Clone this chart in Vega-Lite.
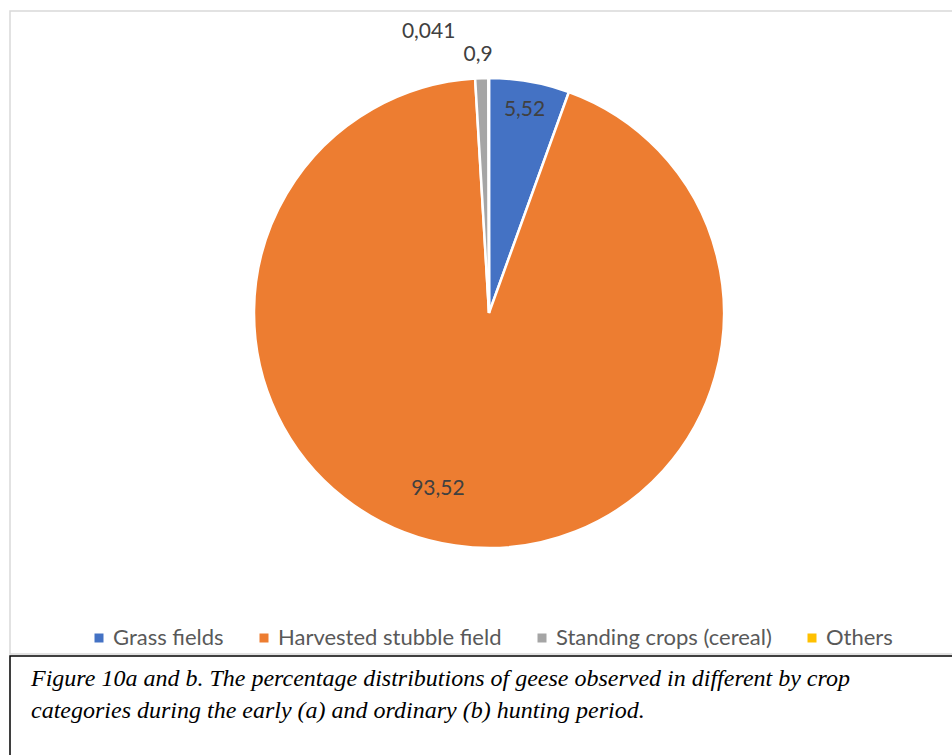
{
  "$schema": "https://vega.github.io/schema/vega-lite/v6.json",
  "padding": {"left": 9, "top": 10, "right": 0, "bottom": 0},
  "background": "white",
  "spacing": 0,
  "vconcat": [
    {
      "width": 943,
      "height": 643,
      "view": {"stroke": "#D9D9D9", "strokeWidth": 1.5},
      "data": {
        "values": [
          {"category": "Grass fields", "value": 5.52, "label": "5,52", "order": 1},
          {"category": "Harvested stubble field", "value": 93.52, "label": "93,52", "order": 2},
          {"category": "Standing crops (cereal)", "value": 0.9, "label": "0,9", "order": 3},
          {"category": "Others", "value": 0.041, "label": "0,041", "order": 4}
        ]
      },
      "encoding": {
        "theta": {"field": "value", "type": "quantitative", "stack": true},
        "order": {"field": "order", "type": "quantitative"}
      },
      "layer": [
        {
          "mark": {"type": "arc", "radius": 235, "stroke": "white", "strokeWidth": 2.5, "xOffset": 7.5, "yOffset": -19.5},
          "encoding": {
            "color": {
              "field": "category",
              "type": "nominal",
              "sort": ["Grass fields", "Harvested stubble field", "Standing crops (cereal)", "Others"],
              "scale": {
                "domain": ["Grass fields", "Harvested stubble field", "Standing crops (cereal)", "Others"],
                "range": ["#4472C4", "#ED7D31", "#A5A5A5", "#FFC000"]
              },
              "legend": {
                "title": null,
                "orient": "none",
                "direction": "horizontal",
                "legendX": 78,
                "legendY": 616,
                "symbolType": "square",
                "symbolSize": 81,
                "symbolStrokeWidth": 0,
                "labelFont": "Lato",
                "labelFontSize": 22,
                "labelColor": "#595959",
                "labelOffset": 3,
                "labelLimit": 0,
                "columnPadding": 29
              }
            }
          }
        },
        {
          "mark": {"type": "text", "radius": 206, "xOffset": 7.5, "yOffset": -19.5, "font": "Lato", "fontSize": 21, "fill": "#404040", "align": "center", "baseline": "middle"},
          "encoding": {
            "text": {"field": "label", "type": "nominal"},
            "opacity": {"condition": {"test": "datum.category === 'Grass fields'", "value": 1}, "value": 0}
          }
        },
        {
          "mark": {"type": "text", "radius": 182, "xOffset": 7.5, "yOffset": -19.5, "dx": -25, "dy": -4, "font": "Lato", "fontSize": 21, "fill": "#404040", "align": "center", "baseline": "middle"},
          "encoding": {
            "text": {"field": "label", "type": "nominal"},
            "opacity": {"condition": {"test": "datum.category === 'Harvested stubble field'", "value": 1}, "value": 0}
          }
        },
        {
          "mark": {"type": "text", "radius": 258, "xOffset": 7.5, "yOffset": -19.5, "dx": -3, "font": "Lato", "fontSize": 21, "fill": "#404040", "align": "center", "baseline": "middle"},
          "encoding": {
            "text": {"field": "label", "type": "nominal"},
            "opacity": {"condition": {"test": "datum.category === 'Standing crops (cereal)'", "value": 1}, "value": 0}
          }
        },
        {
          "mark": {"type": "text", "radius": 281, "xOffset": 7.5, "yOffset": -19.5, "dx": -60, "font": "Lato", "fontSize": 21, "fill": "#404040", "align": "center", "baseline": "middle"},
          "encoding": {
            "text": {"field": "label", "type": "nominal"},
            "opacity": {"condition": {"test": "datum.category === 'Others'", "value": 1}, "value": 0}
          }
        }
      ]
    },
    {
      "width": 943,
      "height": 102,
      "view": {"stroke": "black", "strokeWidth": 1.5},
      "title": {
        "text": [
          "Figure 10a and b. The percentage distributions of geese observed in different by crop",
          "categories during the early (a) and ordinary (b) hunting period."
        ],
        "orient": "top",
        "anchor": "start",
        "frame": "group",
        "offset": -67,
        "dx": 21,
        "font": "Liberation Serif",
        "fontStyle": "italic",
        "fontWeight": "normal",
        "fontSize": 24,
        "lineHeight": 32,
        "color": "black"
      },
      "data": {"values": [{}]},
      "mark": {"type": "text"},
      "encoding": {"text": {"value": ""}}
    }
  ]
}
